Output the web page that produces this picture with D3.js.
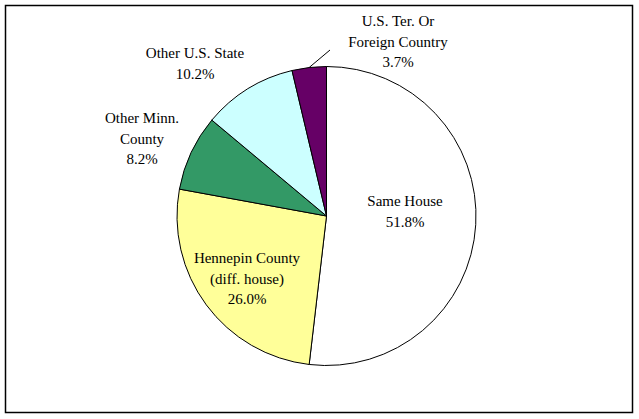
<!DOCTYPE html>
<html><head><meta charset="utf-8">
<script src="https://cdn.jsdelivr.net/npm/d3@7"></script>
<style>body{margin:0;background:#fff}</style>
</head><body>
<script>
const categories = ["Same House", "Hennepin County (diff. house)", "Other Minn. County", "Other U.S. State", "U.S. Ter. Or Foreign Country"];
const values = [51.8, 26.0, 8.2, 10.2, 3.7];
const labelLines = [["Same House","51.8%"],["Hennepin County","(diff. house)","26.0%"],["Other Minn.","County","8.2%"],["Other U.S. State","10.2%"],["U.S. Ter. Or","Foreign Country","3.7%"]];
const colors = ["#FFFFFF", "#FFFF99", "#339966", "#CCFFFF", "#660066"];

const W = 639, H = 419;
const svg = d3.select("body").append("svg").attr("width", W).attr("height", H);
svg.append("rect").attr("x", 5.5).attr("y", 5.5).attr("width", 627).attr("height", 407)
  .attr("fill", "#fff").attr("stroke", "#000").attr("stroke-width", 1.5);

const cx = 326.5, cy = 216, r = 149.5;
const pie = d3.pie().sort(null).value(d => d)(values);
const arc = d3.arc().innerRadius(0).outerRadius(r);
const g = svg.append("g").attr("transform", `translate(${cx},${cy})`);
g.selectAll("path").data(pie).join("path")
  .attr("d", arc).attr("fill", (d, i) => colors[i]).attr("stroke", "#000").attr("stroke-width", 1);

const labelXY = [[405, 201], [247, 258], [142, 118], [195, 53], [398, 21]];
const fontSize = 15, lh = 20.5;
labelLines.forEach((lines, i) => {
  const [x, y] = labelXY[i];
  const t = svg.append("text").style("font-family", '"Liberation Serif"').style("font-size", fontSize + "px")
    .attr("text-anchor", "middle").attr("fill", "#000");
  lines.forEach((s, j) => {
    t.append("tspan").attr("x", x).attr("y", y + j * lh).attr("dy", "0.35em").text(s);
  });
});

const p = pie[4];
const mid = (p.startAngle + p.endAngle) / 2;
const sx = cx + Math.sin(mid) * r, sy = cy - Math.cos(mid) * r;
svg.append("line").attr("x1", sx).attr("y1", sy).attr("x2", 330).attr("y2", 50)
  .attr("stroke", "#000").attr("stroke-width", 1);
</script>
</body></html>
